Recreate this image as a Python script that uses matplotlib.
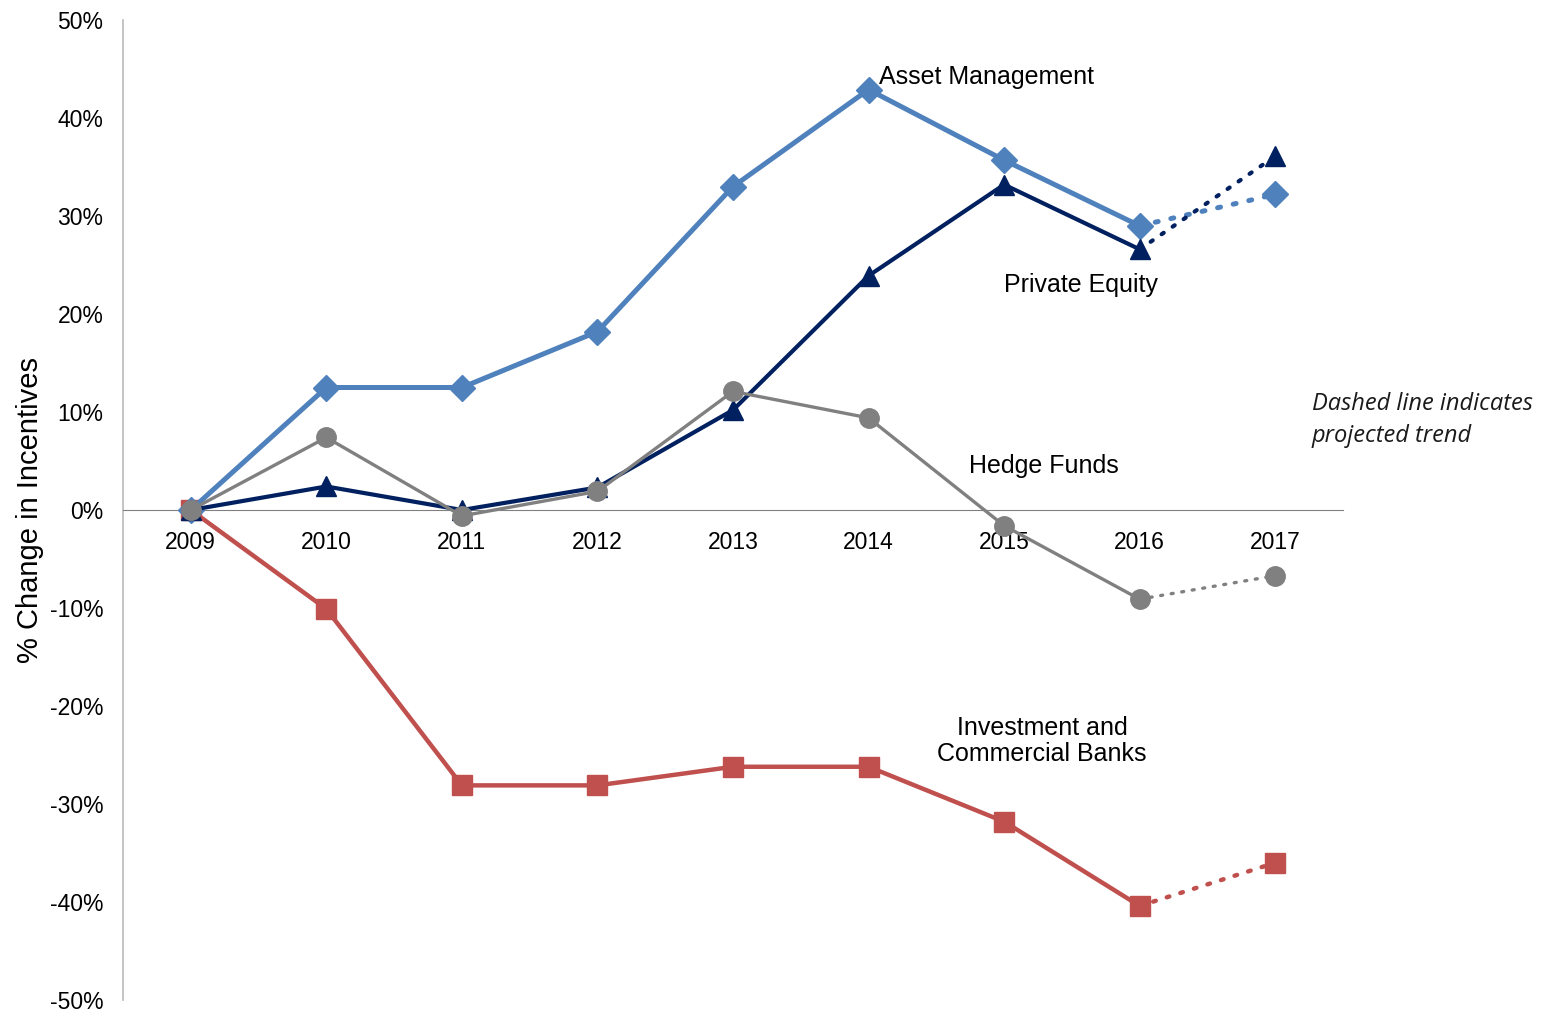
import matplotlib.pyplot as plt
import numpy as np

plt.rcParams['font.family'] = ['Liberation Sans', 'DejaVu Sans']

years = ['2009', '2010', '2011', '2012', '2013', '2014', '2015', '2016', '2017']

# % change in incentives vs 2009 (2017 is projected)
asset_mgmt = [0, 12.5, 12.5, 18.2, 33.0, 42.9, 35.7, 29.0, 32.2]
private_eq = [0, 2.4, 0.0, 2.3, 10.2, 23.9, 33.2, 26.6, 36.1]
hedge_funds = [0, 7.4, -0.6, 1.9, 12.1, 9.4, -1.6, -9.1, -6.7]
banks = [0, -10.1, -28.1, -28.1, -26.2, -26.2, -31.8, -40.4, -36.0]

series = [
    # values, color, marker, markersize, linewidth, label, label pos, align
    (banks, '#C0504D', 's', 14, 3.2, 'Investment and\nCommercial Banks', (6.28, -23.6), 'center'),
    (asset_mgmt, '#4F81BD', 'D', 13, 3.6, 'Asset Management', (5.08, 44.2), 'left'),
    (private_eq, '#002060', '^', 14, 3.0, 'Private Equity', (6.57, 23.0), 'center'),
    (hedge_funds, '#808080', 'o', 14, 2.4, 'Hedge Funds', (6.29, 4.5), 'center'),
]

fig = plt.figure(figsize=(15.49, 10.11), dpi=100)
ax = fig.add_axes([123/1549, 1 - 1000/1011, (1343 - 123)/1549, (1000 - 20)/1011])

ax.spines[['top', 'right']].set_visible(False)
ax.spines['bottom'].set_position(('data', 0))
ax.spines['bottom'].set_color('#808080')
ax.spines['left'].set_color('#BFBFBF')
ax.spines['left'].set_linewidth(1.3)

x = np.arange(len(years))
for i, (vals, col, mk, ms, lw, lab, pos, ha) in enumerate(series):
    z = 3 + i
    vals = np.array(vals)
    # actual years: solid
    ax.plot(x[:-1], vals[:-1], color=col, lw=lw, marker=mk, ms=ms,
            mec=col, mfc=col, zorder=z, clip_on=False)
    # projected year: dotted
    ax.plot(x[-2:], vals[-2:], color=col, lw=lw, ls=(0, (0.6, 2.6)),
            dash_capstyle='round', zorder=z, clip_on=False)
    ax.plot(x[-1], vals[-1], color=col, marker=mk, ms=ms, ls='none',
            zorder=z, clip_on=False)
    ax.text(pos[0], pos[1], lab, ha=ha, va='center', fontsize=18,
            color='black', linespacing=1.1)

ax.text(8.27, 9.2, 'Dashed line indicates\nprojected trend', fontsize=17,
        style='italic', family=['Open Sans', 'DejaVu Sans'], color='#1a1a1a',
        ha='left', va='center', linespacing=1.45)

ax.set_xlim(-0.5, 8.5)
ax.set_ylim(-50, 50)
ax.set_yticks(np.arange(-50, 51, 10))
ax.set_yticklabels([f'{v}%' for v in range(-50, 51, 10)])
ax.set_xticks(x)
ax.set_xticklabels(years)
ax.tick_params(axis='both', length=0, labelsize=16.5)
ax.tick_params(axis='x', pad=15)
ax.tick_params(axis='y', pad=14)
ax.set_axisbelow(True)

ax.set_ylabel('% Change in Incentives', fontsize=21)
ax.yaxis.set_label_coords(-0.065, 0.5)

fig.savefig('out.png', dpi=100)
